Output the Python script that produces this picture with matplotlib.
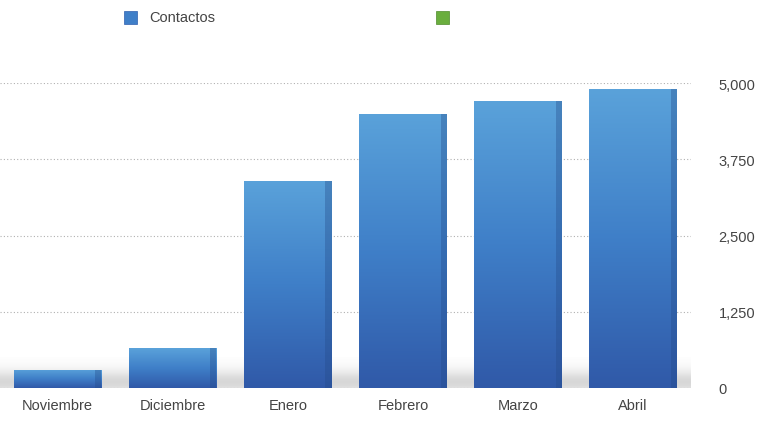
import numpy as np
import matplotlib.pyplot as plt
from matplotlib.patches import Rectangle
from matplotlib.colors import LinearSegmentedColormap

plt.rcParams['font.family'] = ['Liberation Sans', 'DejaVu Sans']

# data
meses = ["Noviembre", "Diciembre", "Enero", "Febrero", "Marzo", "Abril"]
contactos = [300, 650, 3400, 4500, 4700, 4900]
y_ticks = [0, 1250, 2500, 3750, 5000]

fig = plt.figure(figsize=(7.59, 4.27), dpi=100)
ax = fig.add_axes([0.0, 0.089, 0.91, 0.714])

x = np.arange(len(meses))
bars = ax.bar(x, contactos, width=0.76, color="none", edgecolor="none", zorder=3)

# gradient fill for each bar (light top -> dark bottom)
cmap = LinearSegmentedColormap.from_list("blu", ["#3059a8", "#3f7fc8", "#5aa2da"])
grad = np.linspace(0, 1, 256).reshape(-1, 1)
for b in bars:
    x0, w, h = b.get_x(), b.get_width(), b.get_height()
    im = ax.imshow(grad, cmap=cmap, origin="lower", aspect="auto",
                   extent=[x0, x0 + w, 0, h], zorder=3)
    im.set_clip_path(b)
    # darker side face
    ax.add_patch(Rectangle((x0 + w * 0.93, 0), w * 0.07, h, color="#244a88",
                           alpha=0.35, zorder=4, lw=0))

# soft floor shadow
shadow = np.exp(-(np.linspace(-2, 2, 80) / 1.1) ** 2).reshape(-1, 1)
ax.imshow(shadow, cmap="Greys", vmin=0, vmax=3, aspect="auto",
          extent=[-0.5, 5.5, -300, 500], zorder=1, alpha=0.7)

ax.set_xlim(-0.5, 5.5)
ax.set_ylim(0, 5000)
ax.set_yticks(y_ticks)
ax.set_yticklabels([f"{v:,}" for v in y_ticks])
ax.yaxis.tick_right()
ax.tick_params(axis="y", length=0, pad=20, labelsize=10.5, labelcolor="#444444")
ax.set_xticks(x)
ax.set_xticklabels(meses)
ax.tick_params(axis="x", length=0, pad=7, labelsize=10.5, labelcolor="#444444")
ax.grid(axis="y", linestyle=(0, (1, 2)), color="#b0b0b0", linewidth=0.8, zorder=0)
for s in ax.spines.values():
    s.set_visible(False)

# legend
fig.patches.append(Rectangle((0.163, 0.942), 0.017, 0.03, transform=fig.transFigure,
                             facecolor="#3f7fc8", edgecolor="#2f5fae", lw=0.5, figure=fig))
fig.text(0.197, 0.957, "Contactos", fontsize=10.5, color="#444444", va="center")
fig.patches.append(Rectangle((0.574, 0.942), 0.017, 0.03, transform=fig.transFigure,
                             facecolor="#6aae3e", edgecolor="#4f8a2c", lw=0.5, figure=fig))

fig.savefig("out.png", dpi=100)
